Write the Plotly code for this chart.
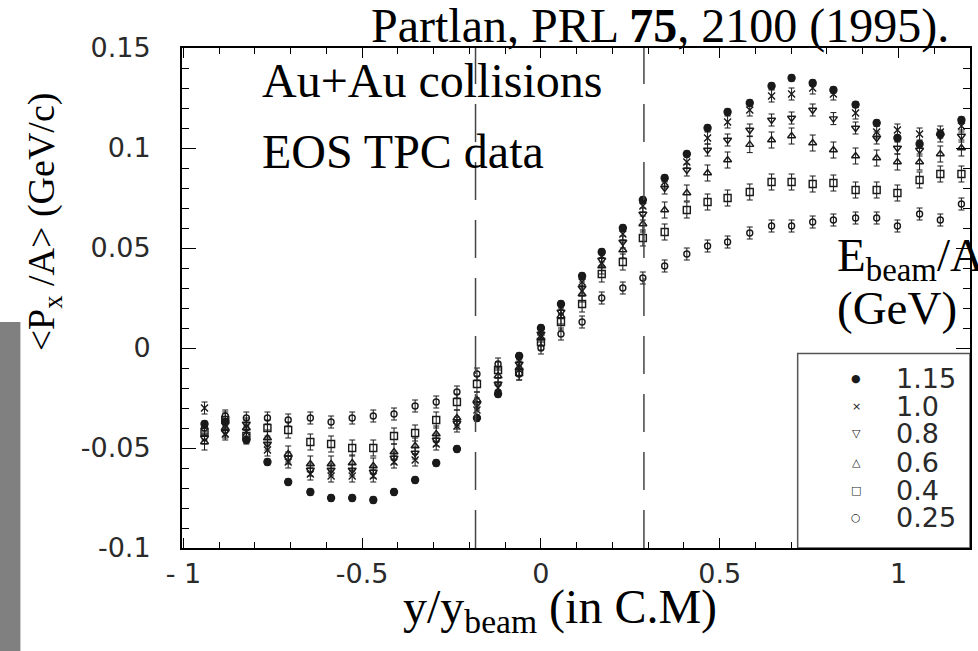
import plotly.graph_objects as go

# ---------------- data ----------------
y_over_ybeam = [-0.941, -0.883, -0.824, -0.765, -0.707, -0.645, -0.587, -0.528, -0.469,
                -0.411, -0.352, -0.293, -0.235, -0.179, -0.120, -0.061, 0.000, 0.056,
                0.115, 0.170, 0.229, 0.285, 0.346, 0.408, 0.466, 0.522, 0.584, 0.645,
                0.701, 0.760, 0.818, 0.880, 0.939, 0.997, 1.059, 1.117, 1.176]

px_1p15 = [-0.038, -0.037, -0.046, -0.057, -0.067, -0.072, -0.075, -0.075, -0.076,
           -0.072, -0.066, -0.0575, -0.0505, -0.035, -0.023, -0.004, 0.010, 0.022,
           0.036, 0.048, 0.060, 0.074, 0.085, 0.097, 0.110, 0.118, 0.1225, 0.131,
           0.135, 0.1325, 0.129, 0.1217, 0.1125, 0.105, 0.102, 0.107, 0.114]
px_1p0 = [-0.030, -0.043, -0.042, -0.051, -0.057, -0.063, -0.064, -0.064, -0.064,
          -0.057, -0.056, -0.048, -0.039, -0.031, -0.020, -0.006, 0.008, 0.020,
          0.033, 0.046, 0.057, 0.071, 0.083, 0.093, 0.105, 0.113, 0.119, 0.126,
          0.127, 0.130, 0.127, 0.1175, 0.108, 0.109, 0.107, 0.108, 0.111]
px_0p8 = [-0.045, -0.042, -0.038, -0.048, -0.055, -0.061, -0.061, -0.061, -0.062,
          -0.055, -0.0525, -0.046, -0.0375, -0.028, -0.018, -0.008, 0.007, 0.018,
          0.030, 0.044, 0.053, 0.067, 0.080, 0.089, 0.099, 0.104, 0.109, 0.114,
          0.115, 0.119, 0.1147, 0.110, 0.105, 0.100, 0.099, 0.106, 0.106]
px_0p6 = [-0.047, -0.040, -0.040, -0.045, -0.053, -0.058, -0.058, -0.0575, -0.059,
          -0.052, -0.049, -0.043, -0.035, -0.026, -0.014, -0.010, 0.005, 0.016,
          0.027, 0.041, 0.049, 0.062, 0.069, 0.0775, 0.0875, 0.094, 0.1017, 0.104,
          0.106, 0.1025, 0.099, 0.096, 0.095, 0.093, 0.093, 0.097, 0.100]
px_0p4 = [-0.042, -0.036, -0.044, -0.040, -0.041, -0.047, -0.048, -0.050, -0.050,
          -0.044, -0.0425, -0.036, -0.027, -0.018, -0.011, -0.012, 0.003, 0.013,
          0.022, 0.037, 0.043, 0.055, 0.058, 0.069, 0.073, 0.075, 0.078, 0.083,
          0.083, 0.082, 0.0825, 0.079, 0.079, 0.0775, 0.084, 0.087, 0.087]
px_0p25 = [-0.040, -0.034, -0.035, -0.035, -0.036, -0.035, -0.037, -0.035, -0.034,
           -0.033, -0.029, -0.027, -0.022, -0.013, -0.008, -0.013, 0.000, 0.007,
           0.013, 0.025, 0.030, 0.035, 0.041, 0.047, 0.051, 0.053, 0.0575, 0.061,
           0.061, 0.063, 0.064, 0.065, 0.065, 0.061, 0.067, 0.064, 0.072]

energies = ["1.15", "1.0", "0.8", "0.6", "0.4", "0.25"]
series = [px_1p15, px_1p0, px_0p8, px_0p6, px_0p4, px_0p25]
errors = [0.0015, 0.003, 0.003, 0.004, 0.004, 0.003]

x_tickvals = [-1, -0.5, 0, 0.5, 1]
x_ticktext = ["- 1", "-0.5", "0", "0.5", "1"]
y_tickvals = [-0.1, -0.05, 0, 0.05, 0.1, 0.15]
y_ticktext = ["-0.1", "-0.05", "0", "0.05", "0.1", "0.15"]
cut_lines = [-0.183, 0.288]

# ---------------- styles ----------------
symbols = ["circle", "x-thin-open", "triangle-down-open", "triangle-up-open",
           "square-open", "circle-open"]
sizes = [7, 7, 7, 7, 7, 6]
glyphs = ["\u25CF", "\u00D7", "\u25BD", "\u25B3", "\u25A1", "\u25CB"]
ink = "#1a1a1a"

W, H = 978, 651
L, R, T, B = 182, 972, 48, 548


def fx(px):
    return (px - L) / (R - L)


def fy(py):
    return (B - py) / (B - T)


fig = go.Figure()
for name, vals, sym, sz, err in zip(energies, series, symbols, sizes, errors):
    fig.add_trace(go.Scatter(
        x=y_over_ybeam, y=vals, mode="markers", name=name,
        marker=dict(symbol=sym, size=sz, color=ink,
                    line=dict(color=ink, width=1.4)),
        error_y=dict(type="constant", value=err, color=ink, thickness=1, width=3),
        cliponaxis=True,
    ))

sans = "DejaVu Sans"
serif = "Liberation Serif"

axis_common = dict(showline=True, linecolor="black", linewidth=2, mirror="allticks",
                   ticks="inside", tickcolor="black", showgrid=False, zeroline=False,
                   tickfont=dict(family=sans, size=27, color="#2a2a2a"))

fig.update_layout(
    width=W, height=H,
    margin=dict(l=L, r=W - R, t=T, b=H - B),
    paper_bgcolor="white", plot_bgcolor="white",
    showlegend=False,
    xaxis=dict(range=[-1.004, 1.2], tickvals=x_tickvals, ticktext=x_ticktext,
               ticklen=10, tickwidth=1.2, ticklabelstandoff=1,
               minor=dict(ticks="inside", dtick=0.1, tick0=0, ticklen=6,
                          tickcolor="black", tickwidth=1),
               **axis_common),
    yaxis=dict(range=[-0.1, 0.15], tickvals=y_tickvals, ticktext=y_ticktext,
               ticklen=14, tickwidth=1.2, ticklabelstandoff=24,
               minor=dict(ticks="inside", dtick=0.01, tick0=0, ticklen=7,
                          tickcolor="black", tickwidth=1),
               **axis_common),
)

shapes = []
for xc in cut_lines:
    shapes.append(dict(type="line", xref="x", yref="paper", x0=xc, x1=xc, y0=0, y1=1,
                       line=dict(color="#444", width=1.5, dash="38px,20px")))
# legend frame
shapes.append(dict(type="rect", xref="x", yref="y", x0=0.718, x1=1.2, y0=-0.1, y1=-0.0027,
                   line=dict(color="#555", width=1.5), fillcolor="white", layer="above"))
# grey scan strip at the left edge
shapes.append(dict(type="rect", xref="paper", yref="paper", x0=fx(-2), x1=fx(20),
                   y0=fy(655), y1=fy(322), line=dict(width=0), fillcolor="#808080"))
fig.update_layout(shapes=shapes)

ann = []


def text(t, px, py, size, family=serif, xanchor="left", angle=0, color="black"):
    ann.append(dict(text=t, xref="paper", yref="paper", x=fx(px), y=fy(py),
                    xanchor=xanchor, yanchor="middle", showarrow=False,
                    textangle=angle, font=dict(family=family, size=size, color=color)))


text("Partlan, PRL <b>75</b>, 2100 (1995).", 953, 26, 48, xanchor="right")
text("Au+Au collisions", 260, 81, 48)
text("EOS TPC data", 260, 151, 48)
text("E<sub>beam</sub>/A", 837, 258, 47)
text("(GeV)", 837, 308, 47)
text("y/y<sub>beam</sub> (in C.M)", 561, 610, 48, xanchor="center")
text("&lt;P<sub>x</sub> /A&gt; (GeV/c)", 44, 222, 38, xanchor="center", angle=-90)

leg_y = [379, 406, 433, 462, 490, 517]
for g, lab, py in zip(glyphs, energies, leg_y):
    text(g, 858, py, 11, family=sans, xanchor="center", color=ink)
    text(lab, 896, py, 27, family=sans, color="#2a2a2a")

fig.update_layout(annotations=ann)
fig.write_html("out.html", config={"displayModeBar": False},
               post_script="document.body.style.margin='0px';document.body.style.overflow='hidden';")
